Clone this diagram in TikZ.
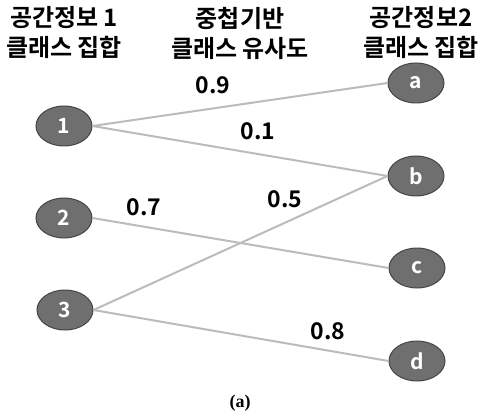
\documentclass[tikz,border=0pt]{standalone}
\usepackage{fontspec}
\usetikzlibrary{shapes.geometric}
\newfontfamily\kr{Noto Sans CJK KR}[BoldFont={* Bold}]
\setmainfont{Liberation Serif}
\definecolor{nodefill}{HTML}{6F6F6F}
\definecolor{nodeline}{HTML}{454545}
\definecolor{edgecol}{HTML}{BBBBBB}
\begin{document}
\begin{tikzpicture}[x=1pt,y=-1pt,
  vert/.style={ellipse,draw=nodeline,line width=1pt,fill=nodefill,minimum width=56pt,minimum height=40pt,inner sep=0pt,text=white,font=\kr\bfseries\fontsize{21}{21}\selectfont},
  link/.style={draw=edgecol,line width=2pt},
  wt/.style={font=\kr\bfseries\fontsize{23}{23}\selectfont},
  hdr/.style={align=center,font=\kr\bfseries\fontsize{24}{30}\selectfont}]
\useasboundingbox (0,0) rectangle (478,419);
\node[hdr] (h1) at (64,33) {공간정보 1\\클래스 집합};
\node[hdr] (h2) at (240,33) {중첩기반\\클래스 유사도};
\node[hdr] (h3) at (421,33) {공간정보2\\클래스 집합};
\node[vert] (n1) at (64,126) {1};
\node[vert] (n2) at (64,218) {2};
\node[vert] (n3) at (65,310) {3};
\node[vert] (na) at (416,83) {a};
\node[vert] (nb) at (416,176) {b};
\node[vert] (nc) at (417,268) {c};
\node[vert] (nd) at (417,361) {d};
\draw[link] (n1.east) -- (na.west);
\draw[link] (n1.east) -- (nb.west);
\draw[link] (n2.east) -- (nc.west);
\draw[link] (n3.east) -- (nb.west);
\draw[link] (n3.east) -- (nd.west);
\node[wt] (w9) at (213,85) {0.9};
\node[wt] (w1) at (258,131) {0.1};
\node[wt] (w7) at (144,207) {0.7};
\node[wt] (w5) at (285,199) {0.5};
\node[wt] (w8) at (328,331) {0.8};
\node[font=\bfseries\fontsize{18}{18}\selectfont] (cap) at (240,403) {(a)};
\end{tikzpicture}
\end{document}
